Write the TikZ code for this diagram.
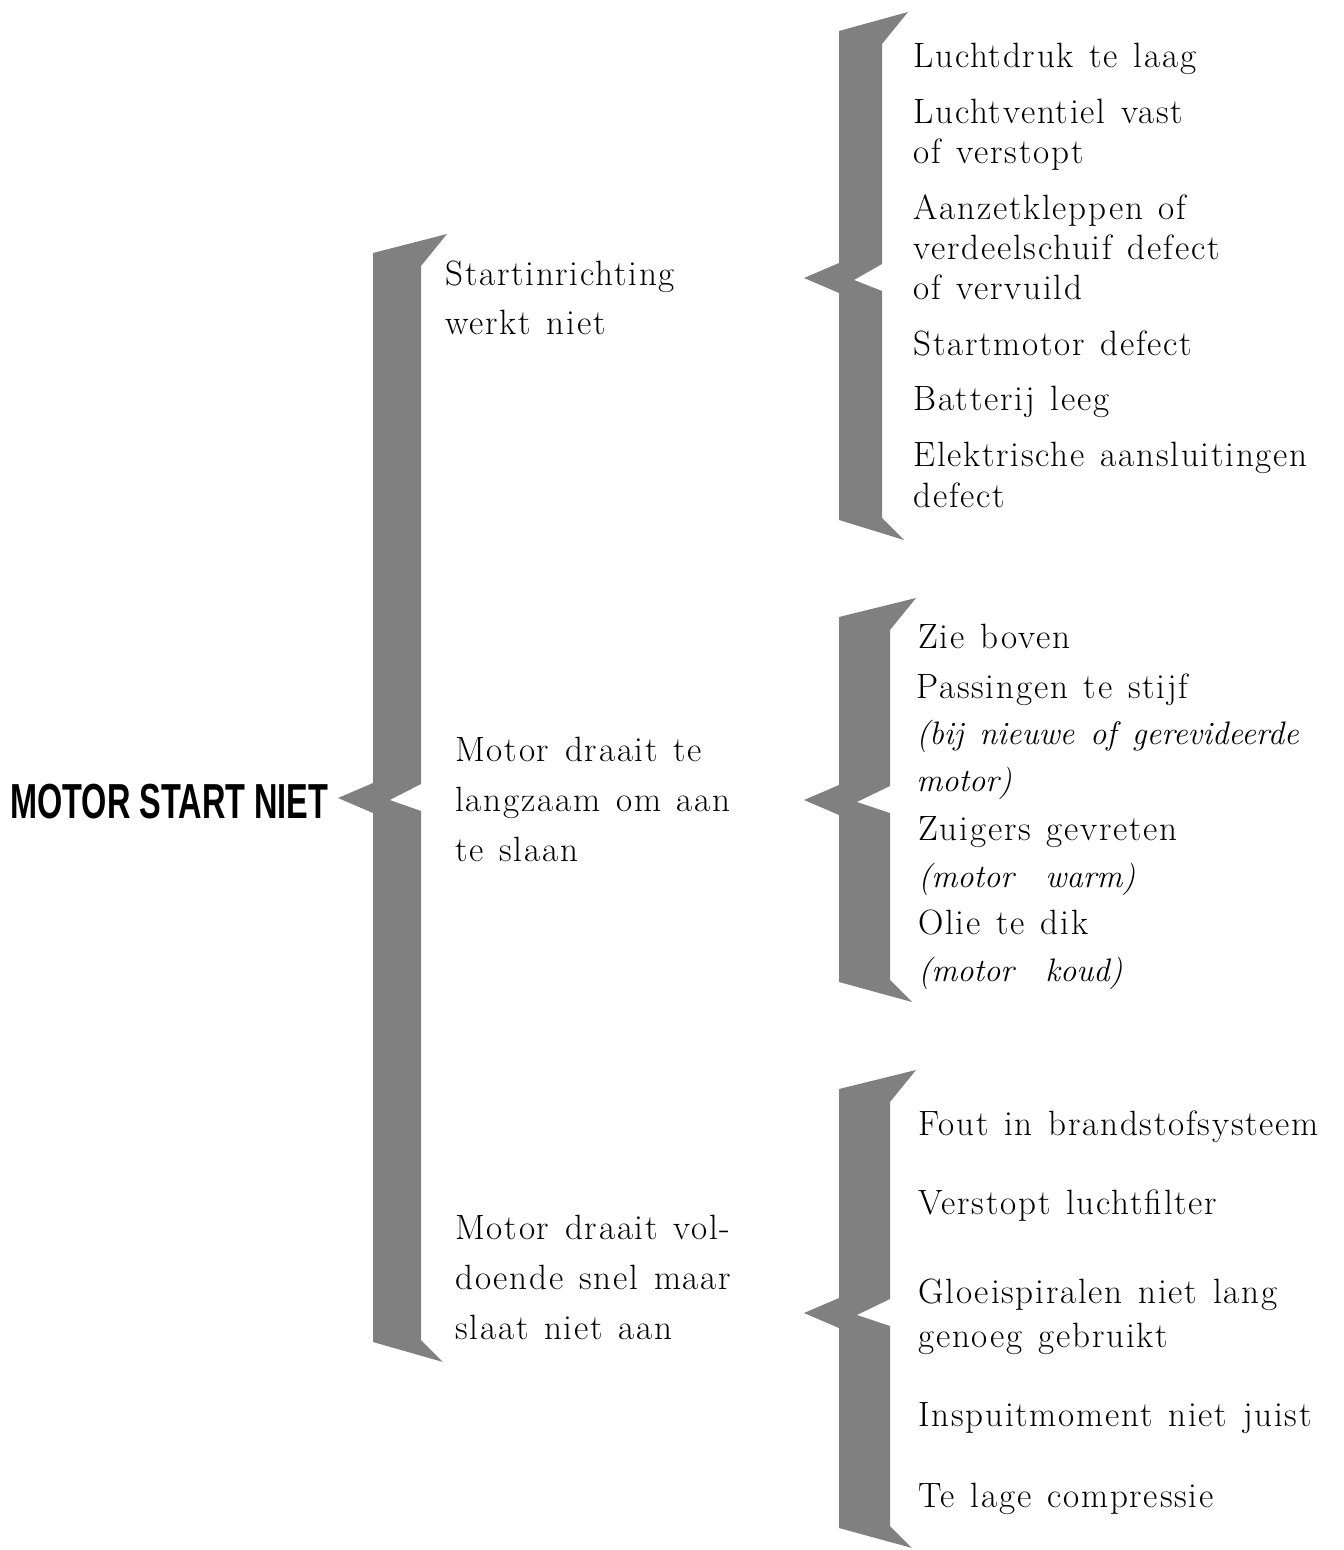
\documentclass[tikz,border=0pt]{standalone}
\usepackage{fontspec}
\usepackage{tikz}
\setmainfont{Latin Modern Roman}[LetterSpace=5]
\newfontfamily\headfont[FakeStretch=0.66]{Liberation Sans}
\definecolor{braceshade}{RGB}{128,128,128}
\newcommand{\widespaces}{\spaceskip=0.45em plus 0.1em\relax}
\newcommand{\opm}[1]{{\itshape\fontsize{18.5pt}{26.2pt}\selectfont\addfontfeatures{LetterSpace=0}#1}}

% stylised curly brace: left x, right x, top tip y, middle tip y, bottom tip y
\newcommand{\greybrace}[5]{%
  \fill[braceshade] (#1,#3+19) -- (#2+26,#3) -- (#2,#3+32) -- (#2,#4-14)
    -- ({#1+0.35*(#2-#1)},#4+2) -- (#2,#4+13) -- (#2,#5-22) -- (#2+22,#5)
    -- (#1,#5-20) -- (#1,#4+15) -- (#1-35,#4) -- (#1,#4-15) -- cycle;}

\begin{document}
\begin{tikzpicture}[x=0.02cm, y=-0.02cm,
  title/.style={anchor=base west, inner sep=0pt,
                font=\headfont\bfseries\fontsize{28}{30}\selectfont},
  reason/.style={anchor=base west, inner sep=0pt, align=left,
                 font=\fontsize{20pt}{28.4pt}\selectfont\widespaces},
  cause/.style={anchor=base west, inner sep=0pt, align=left,
                font=\fontsize{20pt}{#1}\selectfont\widespaces},
  cause/.default=22.8pt,
]
  \useasboundingbox (0,0) rectangle (1344,1550);

  \node[title] (motor) at (10,818) {MOTOR START NIET};

  \greybrace{373}{421}{234}{798}{1362}

  % multi-line nodes sit on the baseline of their last line
  \node[reason] (start)   at (445,335)  {Startinrichting\\werkt niet};
  \node[reason] (traag)   at (455,861)  {Motor draait te\\langzaam om aan\\te slaan};
  \node[reason] (snel)    at (455,1339) {Motor draait vol-\\doende snel maar\\slaat niet aan};

  \greybrace{839}{882}{12}{278}{540}
  \greybrace{839}{890}{598}{800}{1002}
  \greybrace{839}{890}{1070}{1313}{1548}

  % oorzaken bij startinrichting
  \node[cause] (druk)    at (913,68)  {Luchtdruk te laag};
  \node[cause] (ventiel) at (913,164) {Luchtventiel vast\\of verstopt};
  \node[cause] (klep)    at (913,300) {Aanzetkleppen of\\verdeelschuif defect\\of vervuild};
  \node[cause] (smotor)  at (913,356) {Startmotor defect};
  \node[cause] (accu)    at (913,411) {Batterij leeg};
  \node[cause] (elek)    at (913,507) {Elektrische aansluitingen\\defect};

  % oorzaken bij te langzaam draaien
  \node[cause=26.2pt] (boven)  at (918,648) {Zie boven};
  \node[cause=26.2pt] (pas)    at (916,791) {Passingen te stijf\\\opm{(bij nieuwe of gerevideerde}\\\opm{motor)}};
  \node[cause=26.2pt] (zuiger) at (918,887) {Zuigers gevreten\\\opm{(motor\ \ warm)}};
  \node[cause=26.2pt] (olie)   at (918,981) {Olie te dik\\\opm{(motor\ \ koud)}};

  % oorzaken bij niet aanslaan
  \node[cause] (brand)  at (918,1135) {Fout in brandstofsysteem};
  \node[cause] (filter) at (918,1214) {Verstopt luchtfilter};
  \node[cause=25pt] (gloei) at (918,1347) {Gloeispiralen niet lang\\genoeg gebruikt};
  \node[cause] (inspuit) at (918,1426) {Inspuitmoment niet juist};
  \node[cause] (comp)   at (918,1507) {Te lage compressie};
\end{tikzpicture}
\end{document}
